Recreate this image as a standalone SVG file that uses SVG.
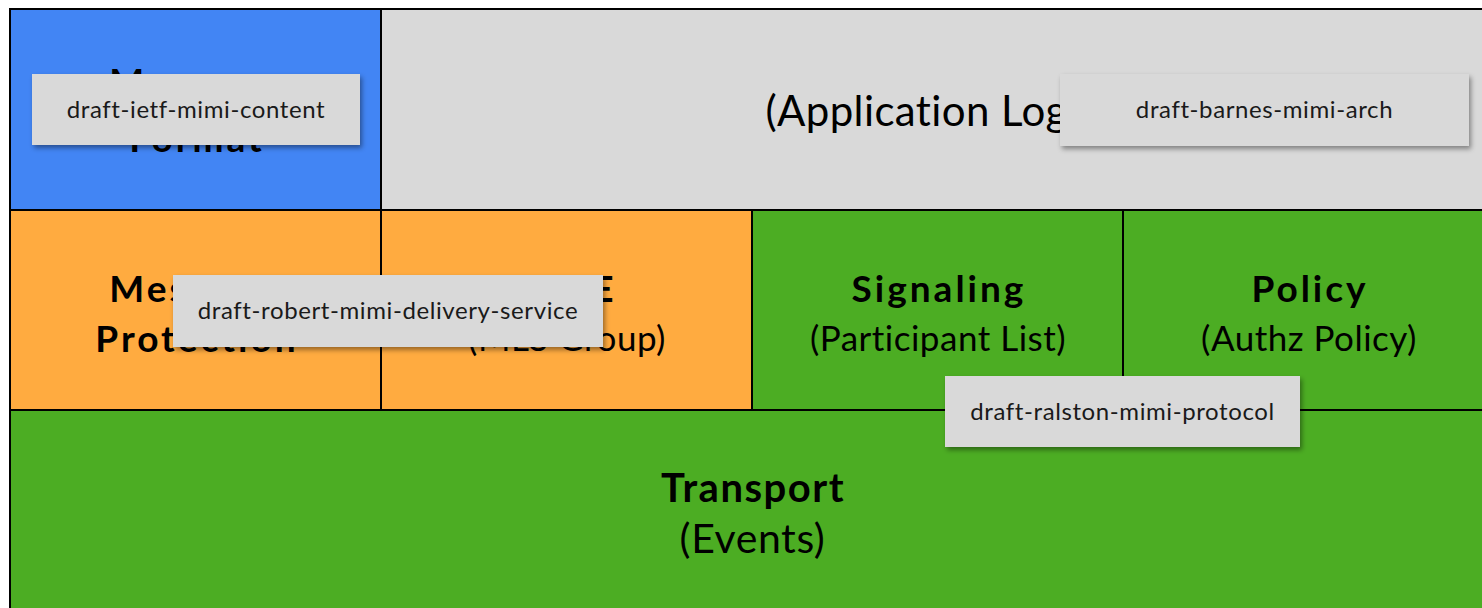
<svg xmlns="http://www.w3.org/2000/svg" width="1482" height="608" viewBox="0 0 1482 608">
  <defs>
    <filter id="cardShadow" x="-10%" y="-20%" width="125%" height="160%">
      <feDropShadow dx="2" dy="3" stdDeviation="2.5" flood-color="#000" flood-opacity="0.4"/>
    </filter>
    <style>
      .cell { stroke: #000; stroke-width: 2; }
      .blue { fill: #4285f4; }
      .grey { fill: #d9d9d9; }
      .orange { fill: #ffab40; }
      .green { fill: #4cad23; }
      .title { font-family: Lato, "Liberation Sans", sans-serif; font-weight: 700; font-size: 37px; letter-spacing: 3px; fill: #000; text-anchor: middle; }
      .sub { font-family: Lato, "Liberation Sans", sans-serif; font-weight: 400; font-size: 35px; letter-spacing: 0.5px; fill: #000; text-anchor: middle; }
      .big { font-size: 42px; letter-spacing: 0.4px; }
      .bigTitle { font-size: 40px; letter-spacing: 1.5px; }
      .bigSub { font-size: 41px; letter-spacing: 0.6px; }
      .card rect { fill: #d9d9d9; filter: url(#cardShadow); }
      .card text { font-family: Lato, "Liberation Sans", sans-serif; font-size: 24px; letter-spacing: 0.6px; fill: #1a1a1a; text-anchor: middle; }
    </style>
  </defs>

  <rect width="1482" height="608" fill="#fff"/>

  <!-- layer cells -->
  <g id="message-format">
    <rect class="cell blue" x="10" y="9" width="371" height="201"/>
    <text class="title" x="192" y="95">Message</text>
    <text class="title" x="197" y="152">Format</text>
  </g>
  <g id="application-logic">
    <rect class="cell grey" x="381" y="9" width="1113" height="201"/>
    <text class="sub big" x="937.5" y="126">(Application Logic)</text>
  </g>
  <g id="message-protection">
    <rect class="cell orange" x="10" y="210" width="371" height="200"/>
    <text class="title" x="192" y="302">Message</text>
    <text class="title" x="197" y="352">Protection</text>
  </g>
  <g id="e2ee">
    <rect class="cell orange" x="381" y="210" width="371" height="200"/>
    <text class="title" x="568" y="302">E2EE</text>
    <text class="sub" x="567" y="351">(MLS Group)</text>
  </g>
  <g id="signaling">
    <rect class="cell green" x="752" y="210" width="371" height="200"/>
    <text class="title" x="939" y="302">Signaling</text>
    <text class="sub" x="938" y="351">(Participant List)</text>
  </g>
  <g id="policy">
    <rect class="cell green" x="1123" y="210" width="371" height="200"/>
    <text class="title" x="1310" y="302">Policy</text>
    <text class="sub" x="1309" y="351">(Authz Policy)</text>
  </g>
  <g id="transport">
    <rect class="cell green" x="10" y="410" width="1484" height="210"/>
    <text class="title bigTitle" x="753" y="502">Transport</text>
    <text class="sub bigSub" x="752.5" y="553">(Events)</text>
  </g>

  <!-- draft callout cards -->
  <g id="draft-ietf-mimi-content" class="card">
    <rect x="32" y="74" width="328" height="71"/>
    <text x="196" y="118">draft-ietf-mimi-content</text>
  </g>
  <g id="draft-barnes-mimi-arch" class="card">
    <rect x="1060" y="74" width="409" height="72"/>
    <text x="1264.5" y="118">draft-barnes-mimi-arch</text>
  </g>
  <g id="draft-robert-mimi-delivery-service" class="card">
    <rect x="173" y="275" width="430" height="72"/>
    <text x="388" y="319">draft-robert-mimi-delivery-service</text>
  </g>
  <g id="draft-ralston-mimi-protocol" class="card">
    <rect x="945" y="376" width="355" height="71"/>
    <text x="1122.5" y="420">draft-ralston-mimi-protocol</text>
  </g>
</svg>
